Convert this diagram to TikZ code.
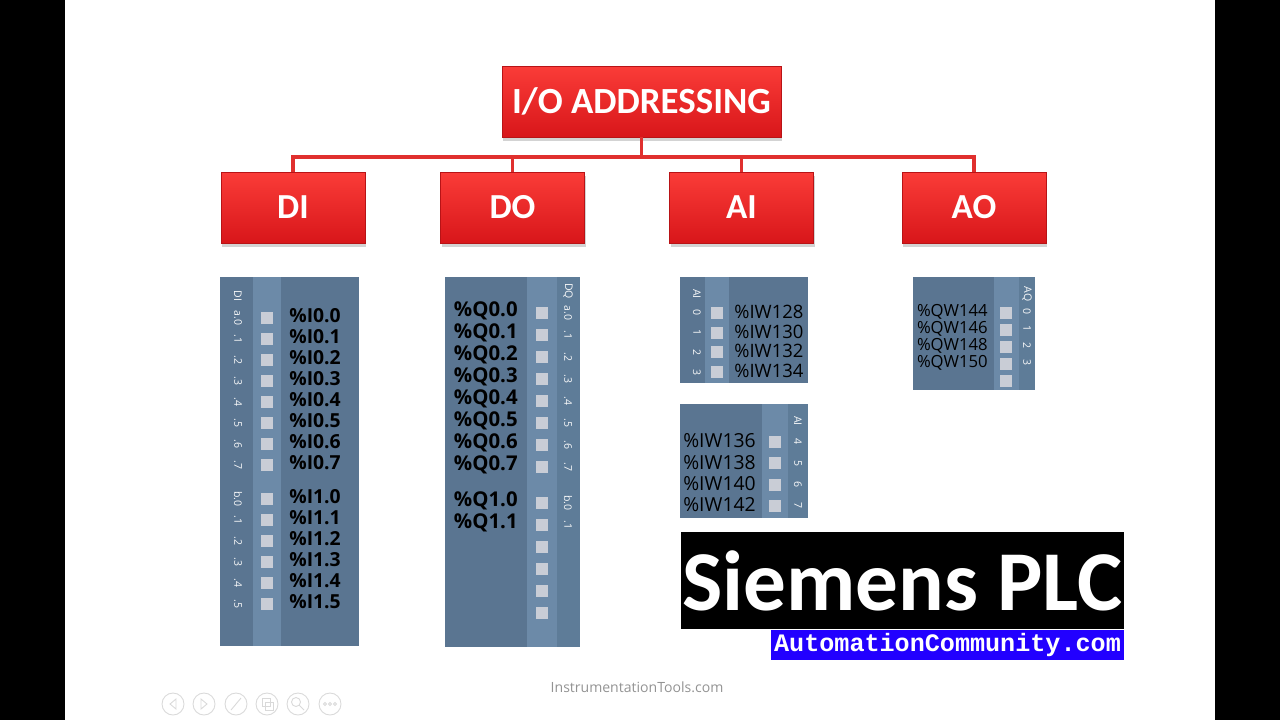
\documentclass[tikz,border=0pt]{standalone}
\usepackage{fontspec}
\usetikzlibrary{shadows}
\newfontfamily\boxfont{Carlito}
\newfontfamily\modfont{Open Sans}
\newfontfamily\webfont{Liberation Mono}
\definecolor{boxtop}{HTML}{FA3C38}
\definecolor{boxbot}{HTML}{D8161A}
\definecolor{wire}{HTML}{E0302E}
\definecolor{modbase}{HTML}{5A7591}
\definecolor{modstrip}{HTML}{6C8AA8}
\definecolor{modside}{HTML}{5E7C98}
\definecolor{led}{HTML}{C9CDD6}
\definecolor{webblue}{HTML}{2200FF}
\tikzset{
	redbox/.style={draw=boxbot!85!black, line width=0.4pt, top color=boxtop, bottom color=boxbot,
		text=white, font=\boxfont\bfseries\fontsize{20}{24}\selectfont,
		minimum width=2.88cm, minimum height=1.42cm, inner sep=0pt,
		drop shadow={shadow xshift=0.6pt, shadow yshift=-2pt, opacity=0.35}},
	wirestyle/.style={wire, line width=1.8pt},
	ledsq/.style={fill=led, minimum size=0.24cm, inner sep=0pt},
	tag/.style={text=white!95!modbase, rotate=-90, inner sep=0pt, font=\modfont\fontsize{6}{7}\selectfont},
	ditext/.style={anchor=west, inner sep=0pt, font=\modfont\bfseries\fontsize{11}{13}\selectfont},
	dotext/.style={anchor=east, inner sep=0pt, font=\modfont\bfseries\fontsize{11.6}{14}\selectfont},
	aitext/.style={inner sep=0pt, font=\modfont\fontsize{10.5}{12}\selectfont},
	aotext/.style={anchor=east, inner sep=0pt, font=\modfont\fontsize{9.5}{11}\selectfont},
	knob/.style={draw=gray!30, line width=0.5pt}
}
\begin{document}
\begin{tikzpicture}[x=0.02cm,y=-0.02cm]
\useasboundingbox (0,0) rectangle (1280,720);
\fill[black] (0,0) rectangle (65,720);
\fill[black] (1215,0) rectangle (1280,720);

\node[redbox, minimum width=5.58cm, font=\boxfont\bfseries\fontsize{21}{25}\selectfont] (io) at (641.5,101.5) {I/O ADDRESSING};
\node[redbox] (di) at (293,207.5) {DI};
\node[redbox] (do) at (512.5,207.5) {DO};
\node[redbox] (ai) at (741.5,207.5) {AI};
\node[redbox] (ao) at (974,207.5) {AO};

\coordinate (bus) at (641.5,157);
\draw[wirestyle] (io.south) -- (bus);
\foreach \n in {di,do,ai,ao}
\draw[wirestyle] (bus) -| (\n.north);

\fill[modbase] (220,277) rectangle (359,646);
\fill[modstrip] (253,277) rectangle (281,646);
\node[tag] (dihead) at (238,296) {DI};
\node[tag] (dia) at (238,318) {a.0};
\node[tag] (dib) at (238,499) {b.0};
\foreach \n in {0,...,7} {
	\node[ledsq] (dil0\n) at (267,{318+21*\n}) {};
	\node[ditext] (dit0\n) at (289,{316+21*\n}) {\%I0.\n};
}
\foreach \n in {1,...,7}
\node[tag] (dia\n) at (238,{318+21*\n}) {.\n};
\foreach \n in {0,...,5} {
	\node[ledsq] (dil1\n) at (267,{499+21*\n}) {};
	\node[ditext] (dit1\n) at (289,{497+21*\n}) {\%I1.\n};
}
\foreach \n in {1,...,5}
\node[tag] (dib\n) at (238,{499+21*\n}) {.\n};

\fill[modbase] (445,277) rectangle (580,647);
\fill[modstrip] (527,277) rectangle (557,647);
\fill[modside] (557,277) rectangle (580,647);
\node[tag] (dohead) at (568,291) {DQ};
\node[tag] (doa) at (568,313) {a.0};
\node[tag] (dob) at (568,503) {b.0};
\node[tag] (dob1) at (568,525) {.1};
\foreach \n in {0,...,7} {
	\node[ledsq] (dol0\n) at (542,{313+22*\n}) {};
	\node[dotext] (dot0\n) at (518,{311+22*\n}) {\%Q0.\n};
}
\foreach \n in {1,...,7}
\node[tag] (doa\n) at (568,{313+22*\n}) {.\n};
\foreach \n in {0,...,5}
\node[ledsq] (dol1\n) at (542,{503+22*\n}) {};
\foreach \n in {0,1}
\node[dotext] (dot1\n) at (518,{501+22*\n}) {\%Q1.\n};

\fill[modbase] (680,277) rectangle (808,383);
\fill[modstrip] (705,277) rectangle (729,383);
\node[tag] (aihead) at (697,294) {AI};
\foreach \n/\a in {0/128,1/130,2/132,3/134} {
	\node[ledsq] (ail\n) at (717,{313+19.7*\n}) {};
	\node[aitext, anchor=west] (ait\n) at (734,{312+19.7*\n}) {\%IW\a};
	\node[tag] (aic\n) at (697,{313+19.7*\n}) {\n};
}

\fill[modbase] (680,404) rectangle (808,518);
\fill[modstrip] (762,404) rectangle (788,518);
\fill[modside] (788,404) rectangle (808,518);
\node[tag] (bihead) at (798,421) {AI};
\foreach \n/\a in {4/136,5/138,6/140,7/142} {
	\node[ledsq] (bil\n) at (775,{442+21.3*(\n-4)}) {};
	\node[aitext, anchor=east, font=\modfont\fontsize{11}{13}\selectfont] (bit\n) at (756,{441+21.3*(\n-4)}) {\%IW\a};
	\node[tag] (bic\n) at (798,{442+21.3*(\n-4)}) {\n};
}

\fill[modbase] (913,277) rectangle (1035,390);
\fill[modstrip] (994,277) rectangle (1019,390);
\fill[modside] (1019,277) rectangle (1035,390);
\node[tag] (aohead) at (1027,294) {AQ};
\foreach \n in {0,...,4}
\node[ledsq] (aol\n) at (1006,{313+17*\n}) {};
\foreach \n/\a in {0/144,1/146,2/148,3/150} {
	\node[aotext] (aot\n) at (988,{312+17*\n}) {\%QW\a};
	\node[tag] (aoc\n) at (1027,{312+17*\n}) {\n};
}

\node[fill=black, text=white, minimum width=8.86cm, minimum height=1.94cm, inner sep=0pt,
	font=\boxfont\bfseries\fontsize{48.5}{50}\selectfont] (plc) at (902.5,580.5) {Siemens PLC};
\node[fill=webblue, text=white, minimum width=7.06cm, minimum height=0.6cm, inner sep=0pt,
	font=\webfont\bfseries\fontsize{14.3}{16}\selectfont] (web) at (947.5,645) {AutomationCommunity.com};

\node[text=gray!85, font=\modfont\fontsize{8}{10}\selectfont] (credit) at (637,687) {InstrumentationTools.com};

\foreach \x in {173,204,236,267,298,330}
\draw[knob] (\x,704) circle (11);
\draw[knob] (176,699) -- (170,704) -- (176,709) -- cycle;
\draw[knob] (201,699) -- (207,704) -- (201,709) -- cycle;
\draw[knob] (231,710) -- (241,698);
\draw[knob] (262,698) rectangle (270,706);
\draw[knob] (265,702) rectangle (273,710);
\draw[knob] (296,702) circle (4.5);
\draw[knob] (299,705) -- (304,710);
\foreach \x in {325,330,335}
\draw[knob] (\x,704) circle (1.5);

\end{tikzpicture}
\end{document}
